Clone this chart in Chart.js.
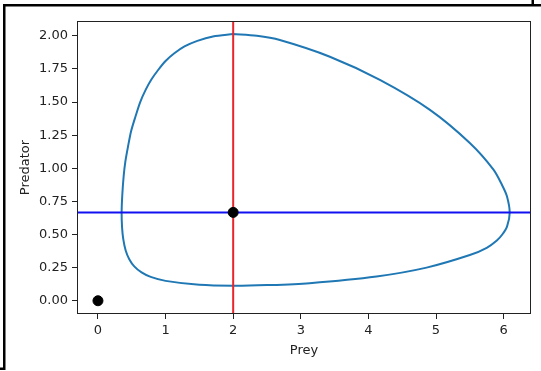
<!DOCTYPE html>
<html>
<head>
<meta charset="utf-8">
<script src="https://cdn.jsdelivr.net/npm/chart.js@4/dist/chart.umd.min.js"></script>
<style>
  body { margin: 0; background: #fff; }
</style>
</head>
<body>
<canvas id="phaseChart" width="541" height="371"></canvas>
<script>
// orbit (prey, predator), clockwise from the top
const orbitPrey = [2.0, 2.35, 2.69, 3.43, 4.17, 4.91, 5.50, 5.85, 5.98, 6.05, 6.09, 6.05, 5.98, 5.90, 5.75, 5.50, 4.86, 4.12, 3.13, 2.5, 2.0, 1.5, 1.0, 0.78, 0.645, 0.537, 0.463, 0.41, 0.375, 0.357, 0.35, 0.36, 0.38, 0.405, 0.445, 0.49, 0.555, 0.625, 0.705, 0.79, 0.89, 1.0, 1.13, 1.28, 1.47, 1.7, 2.0];
const orbitPredator = [2.013, 2.0, 1.968, 1.842, 1.667, 1.441, 1.191, 0.99, 0.87, 0.787, 0.665, 0.56, 0.50, 0.455, 0.40, 0.345, 0.25, 0.183, 0.133, 0.118, 0.113, 0.12, 0.15, 0.18, 0.214, 0.26, 0.314, 0.38, 0.464, 0.55, 0.665, 0.80, 0.94, 1.05, 1.165, 1.28, 1.391, 1.50, 1.592, 1.67, 1.742, 1.81, 1.868, 1.92, 1.962, 1.995, 2.013];

// fixed points
const fixedPrey = [0, 2];
const fixedPredator = [0, 0.667];

const xRange = [-0.31, 6.405];
const yRange = [-0.1, 2.112];
const xTicks = [0, 1, 2, 3, 4, 5, 6];
const yTicks = [0, 0.25, 0.5, 0.75, 1.0, 1.25, 1.5, 1.75, 2.0];

Chart.defaults.font.family = "'DejaVu Sans', sans-serif";
Chart.defaults.font.size = 13;
Chart.defaults.color = '#222';

const orbit = orbitPrey.map((x, i) => ({ x: x, y: orbitPredator[i] }));
const fixedPts = fixedPrey.map((x, i) => ({ x: x, y: fixedPredator[i] }));
const eqPrey = fixedPrey[1];
const eqPred = fixedPredator[1];

// axes box + outer frame of the screenshot
const framePlugin = {
  id: 'frame',
  afterDraw(chart) {
    const ctx = chart.ctx;
    const a = chart.chartArea;
    ctx.save();
    ctx.strokeStyle = '#222';
    ctx.lineWidth = 1;
    ctx.strokeRect(a.left + 0.5, a.top + 0.5, a.right - a.left - 1, a.bottom - a.top - 1);
    ctx.fillStyle = '#000';
    ctx.fillRect(3, 4, 538, 2.5);
    ctx.fillRect(3, 4, 2.5, 366);
    ctx.fillRect(531.5, 0, 2.5, 5);
    ctx.fillRect(0, 367.5, 5, 2.5);
    ctx.restore();
  }
};

const ctx = document.getElementById('phaseChart').getContext('2d');

const chart = new Chart(ctx, {
  type: 'scatter',
  data: {
    datasets: [
      {
        label: 'fixed points',
        data: fixedPts,
        backgroundColor: '#000',
        borderColor: '#000',
        pointRadius: 5,
        order: 0
      },
      {
        label: 'predator equilibrium',
        data: [{ x: xRange[0], y: eqPred }, { x: xRange[1], y: eqPred }],
        showLine: true,
        borderColor: '#1010f0',
        borderWidth: 2,
        pointRadius: 0,
        order: 1
      },
      {
        label: 'prey equilibrium',
        data: [{ x: eqPrey, y: yRange[0] }, { x: eqPrey, y: yRange[1] }],
        showLine: true,
        borderColor: '#e8252b',
        borderWidth: 2,
        pointRadius: 0,
        order: 2
      },
      {
        label: 'orbit',
        data: orbit,
        showLine: true,
        tension: 0.3,
        borderColor: '#1f77b4',
        borderWidth: 2,
        pointRadius: 0,
        order: 3
      }
    ]
  },
  options: {
    responsive: false,
    animation: false,
    layout: { padding: { top: 21, right: 10, left: 0, bottom: 0 } },
    plugins: {
      legend: { display: false },
      tooltip: { enabled: false }
    },
    scales: {
      x: {
        type: 'linear',
        min: xRange[0],
        max: xRange[1],
        afterBuildTicks: (s) => { s.ticks = xTicks.map(v => ({ value: v })); },
        afterFit: (s) => { s.height = 57; },
        border: { display: false },
        grid: { drawOnChartArea: false, drawTicks: true, tickLength: 5, color: '#222' },
        ticks: { padding: 4, maxRotation: 0, callback: (v) => String(v) },
        title: { display: true, text: 'Prey', padding: { top: 0, bottom: 13 } }
      },
      y: {
        type: 'linear',
        min: yRange[0],
        max: yRange[1],
        afterBuildTicks: (s) => { s.ticks = yTicks.map(v => ({ value: v })); },
        afterFit: (s) => { s.width = 77; },
        border: { display: false },
        grid: { drawOnChartArea: false, drawTicks: true, tickLength: 5, color: '#222' },
        ticks: { padding: 4, callback: (v) => Number(v).toFixed(2) },
        title: { display: true, text: 'Predator', padding: { top: 18, bottom: 0 } }
      }
    }
  },
  plugins: [framePlugin]
});
</script>
</body>
</html>
